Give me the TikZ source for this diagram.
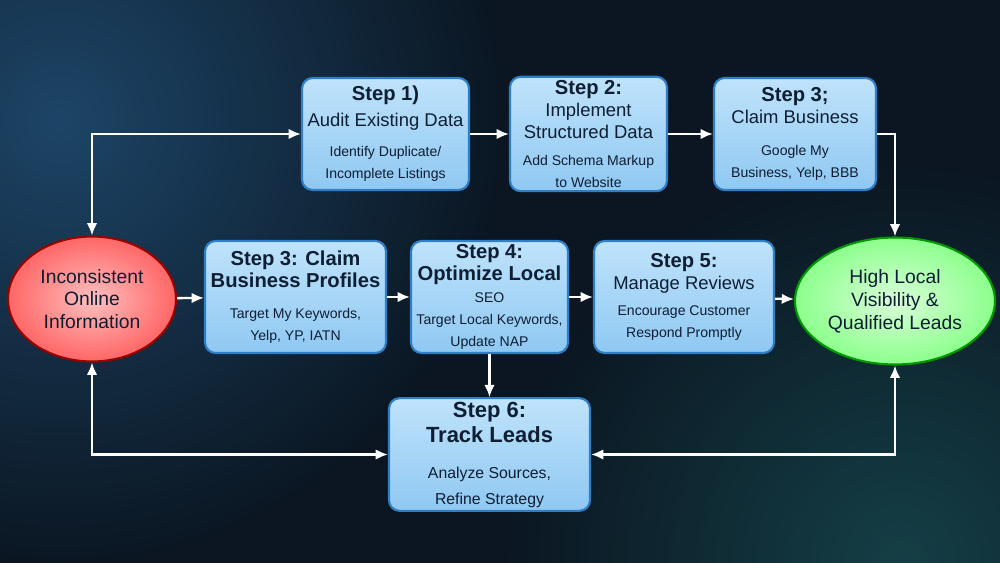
\documentclass[tikz,border=0pt]{standalone}
\usepackage{fontspec}
\setmainfont{Liberation Sans}
\usetikzlibrary{shapes.geometric,arrows.meta}
\definecolor{bgdark}{HTML}{0B1622}
\definecolor{bgblue}{HTML}{1F4A6E}
\definecolor{bgteal}{HTML}{1B5A5E}
\definecolor{boxtop}{HTML}{BFE3FB}
\definecolor{boxbot}{HTML}{8FC8F2}
\definecolor{boxline}{HTML}{2F7FC8}
\definecolor{navy}{HTML}{0E1E33}
\newcommand\hd{\fontsize{11.5}{13.5}\selectfont\bfseries}
\newcommand\txt{\fontsize{8}{9.5}\selectfont\mdseries}
\begin{document}
\begin{tikzpicture}[x=0.02cm,y=-0.02cm,
  stepbox/.style={draw=boxline, line width=1.2pt, rounded corners=6pt, top color=boxtop, bottom color=boxbot,
    text=navy, align=center, inner sep=2pt, minimum height=2.24cm, font=\fontsize{10.5}{12.5}\selectfont},
  goal/.style={ellipse, draw=#1!60!black, line width=1.2pt, text=navy, align=center, inner sep=0pt,
    font=\fontsize{11}{13}\selectfont},
  flow/.style={-{Latex[length=7pt,width=6pt]}, white, line width=1.3pt},
  both/.style={{Latex[length=7pt,width=6pt]}-{Latex[length=7pt,width=6pt]}, white, line width=1.3pt}]
\useasboundingbox (0,0) rectangle (1000,563);
\begin{scope}
\clip (0,0) rectangle (1000,563);
\fill[bgdark] (0,0) rectangle (1000,563);
\shade[inner color=bgblue, outer color=bgdark, opacity=0.9] (60,120) circle (9cm);
\shade[inner color=bgteal, outer color=bgdark, opacity=0.6] (900,560) circle (8cm);
\end{scope}

% outer goals
\node[goal=red, inner color=red!25, outer color=red!60, minimum width=3.36cm, minimum height=2.5cm]
  (start) at (92,299) {Inconsistent\\Online\\Information};
\node[goal=green, inner color=green!15, outer color=green!45!white, minimum width=4cm, minimum height=2.54cm]
  (goal) at (895,301) {High Local\\Visibility \&\\Qualified Leads};

% top row
\node[stepbox, minimum width=3.34cm] (audit) at (385.5,134)
  {\hd Step 1)\\[2pt] Audit Existing Data\\[5pt] \txt Identify Duplicate/\\ \txt Incomplete Listings};
\node[stepbox, minimum width=3.14cm] (schema) at (588.5,134)
  {\hd Step 2:\\ Implement\\ Structured Data\\[3pt] \txt Add Schema Markup\\ \txt to Website};
\node[stepbox, minimum width=3.24cm] (claim) at (795,134)
  {\hd Step 3;\\ Claim Business\\[6pt] \txt Google My\\ \txt Business, Yelp, BBB};

% middle row
\node[stepbox, minimum width=3.62cm] (profiles) at (295.5,297)
  {\hd Step 3: Claim\\ \hd Business Profiles\\[5pt] \txt Target My Keywords,\\ \txt Yelp, YP, IATN};
\node[stepbox, minimum width=3.14cm] (seo) at (489.5,297)
  {\hd Step 4:\\ \hd Optimize Local\\ \txt SEO\\ \txt Target Local Keywords,\\ \txt Update NAP};
\node[stepbox, minimum width=3.6cm] (reviews) at (684,297)
  {\hd Step 5:\\ Manage Reviews\\[2pt] \txt Encourage Customer\\ \txt Respond Promptly};

% bottom
\node[stepbox, minimum width=4.02cm, minimum height=2.14cm, font=\fontsize{12.5}{14.5}\selectfont\bfseries] (leads) at (489.5,454.5)
  {Step 6:\\ Track Leads\\[6pt] \fontsize{9}{10.5}\selectfont\mdseries Analyze Sources,\\ \fontsize{9}{10.5}\selectfont\mdseries Refine Strategy};

% connectors
\draw[both] (start.north) |- (audit.west);
\draw[flow] (audit) -- (schema);
\draw[flow] (schema) -- (claim);
\draw[flow] (claim.east) -| (goal.north);
\draw[flow] (start) -- (profiles);
\draw[flow] (profiles) -- (seo);
\draw[flow] (seo) -- (reviews);
\draw[flow] (reviews) -- (goal);
\draw[flow] (seo) -- (leads);
\draw[both] (start.south) |- (leads.west);
\draw[both] (goal.south) |- (leads.east);
\end{tikzpicture}
\end{document}
